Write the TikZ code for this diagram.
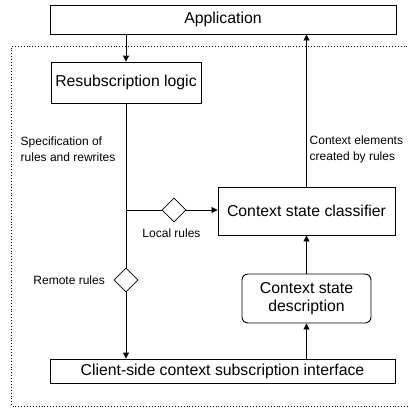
\documentclass[tikz,border=0pt]{standalone}
\usepackage{fontspec}
\setmainfont{Liberation Sans}
\usetikzlibrary{shapes.geometric,arrows.meta}
\begin{document}
\begin{tikzpicture}[x=1pt,y=-1pt,
  box/.style={draw=black,line width=0.9pt,rectangle,inner sep=0pt,
    font=\fontsize{15.8}{19}\selectfont},
  roundbox/.style={box,rounded corners=6pt,align=center},
  choice/.style={draw=black,line width=0.7pt,diamond,inner sep=0pt,
    minimum width=24,minimum height=24},
  lbl/.style={inner sep=0pt,font=\fontsize{12}{16}\selectfont,align=left},
  flow/.style={line width=0.9pt},
  tip/.style={flow,-{Triangle[length=6pt,width=6pt]}}
]
\useasboundingbox (0,0) rectangle (409,408);

% enclosing dotted frame (open on the right)
\draw[dotted,line width=0.9pt] (416,46) -- (11.5,46) -- (11.5,406) -- (416,406);

% boxes
\node[box,minimum width=346,minimum height=29] (app) at (223,19.5) {Application};
\node[box,minimum width=150,minimum height=41] (resub) at (126,82.5) {Resubscription logic};
\node[box,minimum width=177,minimum height=48] (csc) at (306.5,211) {Context state classifier};
\node[roundbox,minimum width=129,minimum height=49] (desc) at (306.5,298.5) {Context state\\[-1pt]description};
\node[box,minimum width=345,minimum height=24] (client) at (222.5,371) {Client-side context subscription interface};

% decision points
\coordinate (junc) at (126,210);
\node[choice] (local) at (174,210) {};
\node[choice] (remote) at (126,280) {};

% labels
\node[lbl,anchor=west] (spec) at (20.5,149) {Specification of\\rules and rewrites};
\node[lbl,anchor=west] (created) at (309.5,149) {Context elements\\created by rules};
\node[lbl] (locallbl) at (171.5,233.5) {Local rules};
\node[lbl,anchor=east] (remotelbl) at (105,280.5) {Remote rules};

% connectors
\draw[tip] (app.south -| resub.north) -- (resub.north);
\draw[flow] (resub.south) -- (remote.north);
\draw[tip] (remote.south) -- (remote.south |- client.north);
\draw[flow] (junc) -- (local.west);
\draw[tip] (local.east) -- (local.east -| csc.west);
\draw[tip] (csc.north) -- (csc.north |- app.south);
\draw[tip] (desc.north) -- (csc.south);
\draw[tip] (client.north -| desc.south) -- (desc.south);
\end{tikzpicture}
\end{document}
